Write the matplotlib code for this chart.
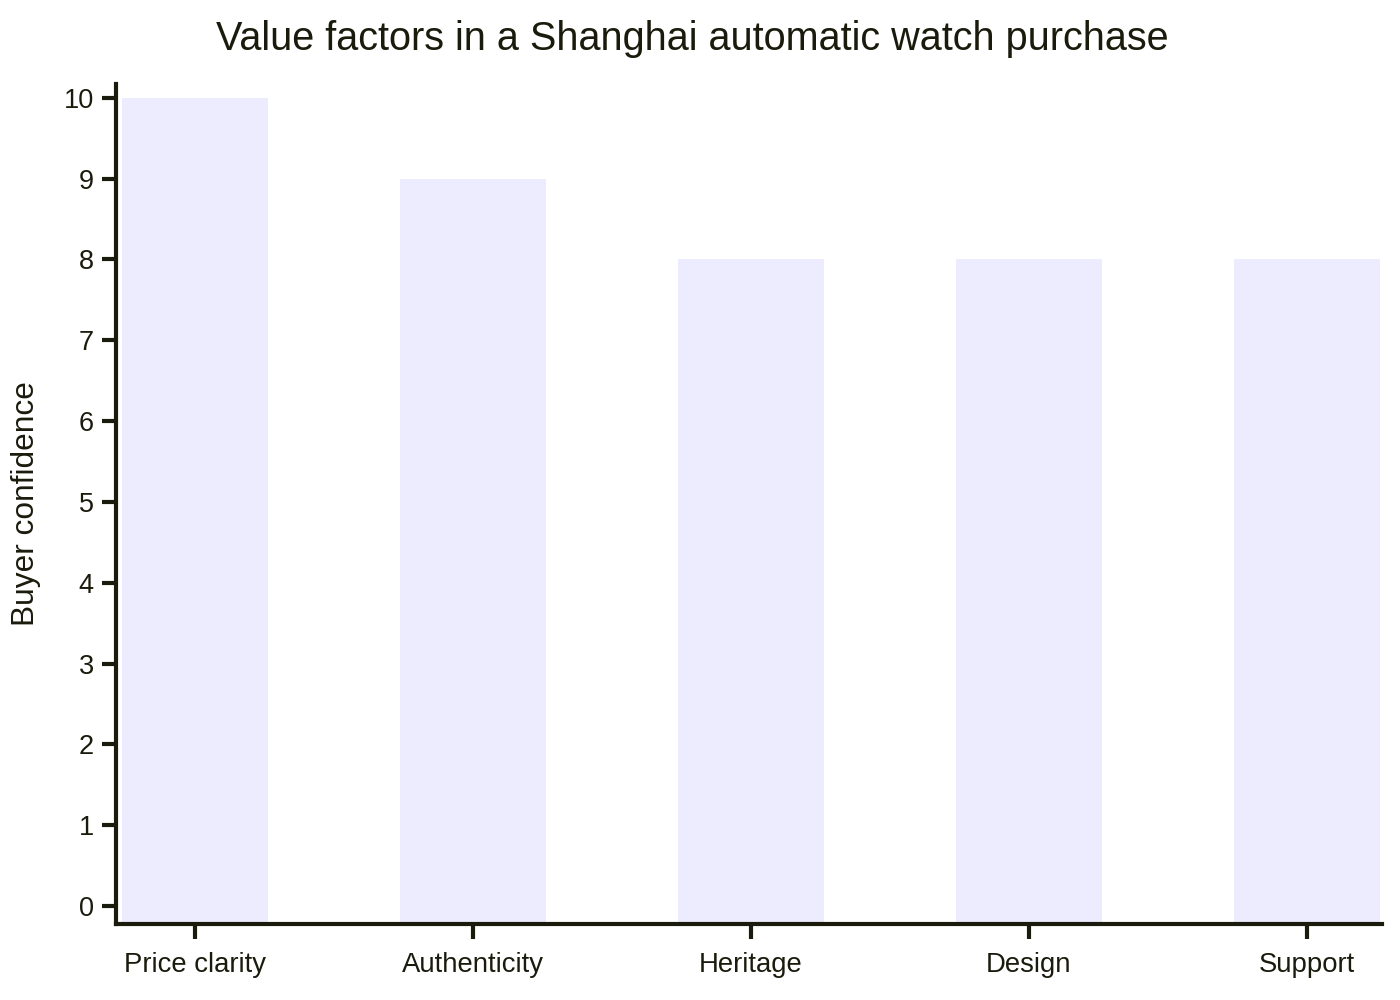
import numpy as np
import matplotlib
matplotlib.use("Agg")
import matplotlib.pyplot as plt

plt.rcParams['font.family'] = ['Liberation Sans', 'DejaVu Sans']

categories = ['Price clarity', 'Authenticity', 'Heritage', 'Design', 'Support']
confidence = [10, 9, 8, 8, 8]
y_ticks = [0, 1, 2, 3, 4, 5, 6, 7, 8, 9, 10]

txt = '#1b1b0d'
bar_color = '#ececfe'

fig = plt.figure(figsize=(14, 10), dpi=100)
ax = fig.add_axes([116/1400, 76/1000, (1382-116)/1400, 840/1000])

ymin, ymax = -0.223, 10.17
x = np.arange(len(categories))
vals = np.array(confidence, dtype=float)
ax.bar(x, vals - ymin, bottom=ymin, width=0.525, color=bar_color, edgecolor='none')

ax.set_xlim(-0.284, 4.27)
ax.set_ylim(ymin, ymax)
ax.set_xticks(x)
ax.set_xticklabels(categories, fontsize=19.8, color=txt)
ax.set_yticks(y_ticks)
ax.set_yticklabels([str(v) for v in y_ticks], fontsize=19.5, color=txt)

for s in ['top', 'right']:
    ax.spines[s].set_visible(False)
for s in ['left', 'bottom']:
    ax.spines[s].set_linewidth(3)
    ax.spines[s].set_color(txt)
ax.tick_params(axis='x', length=11, width=3, color=txt, pad=9)
ax.tick_params(axis='y', length=10, width=3, color=txt, pad=6)

ax.set_ylabel('Buyer confidence', fontsize=22.8, color=txt, labelpad=16)
fig.suptitle('Value factors in a Shanghai automatic watch purchase',
             fontsize=28.5, color=txt, x=692/1400, y=0.961, va='center')

fig.savefig('out.png', dpi=100, facecolor='white')
